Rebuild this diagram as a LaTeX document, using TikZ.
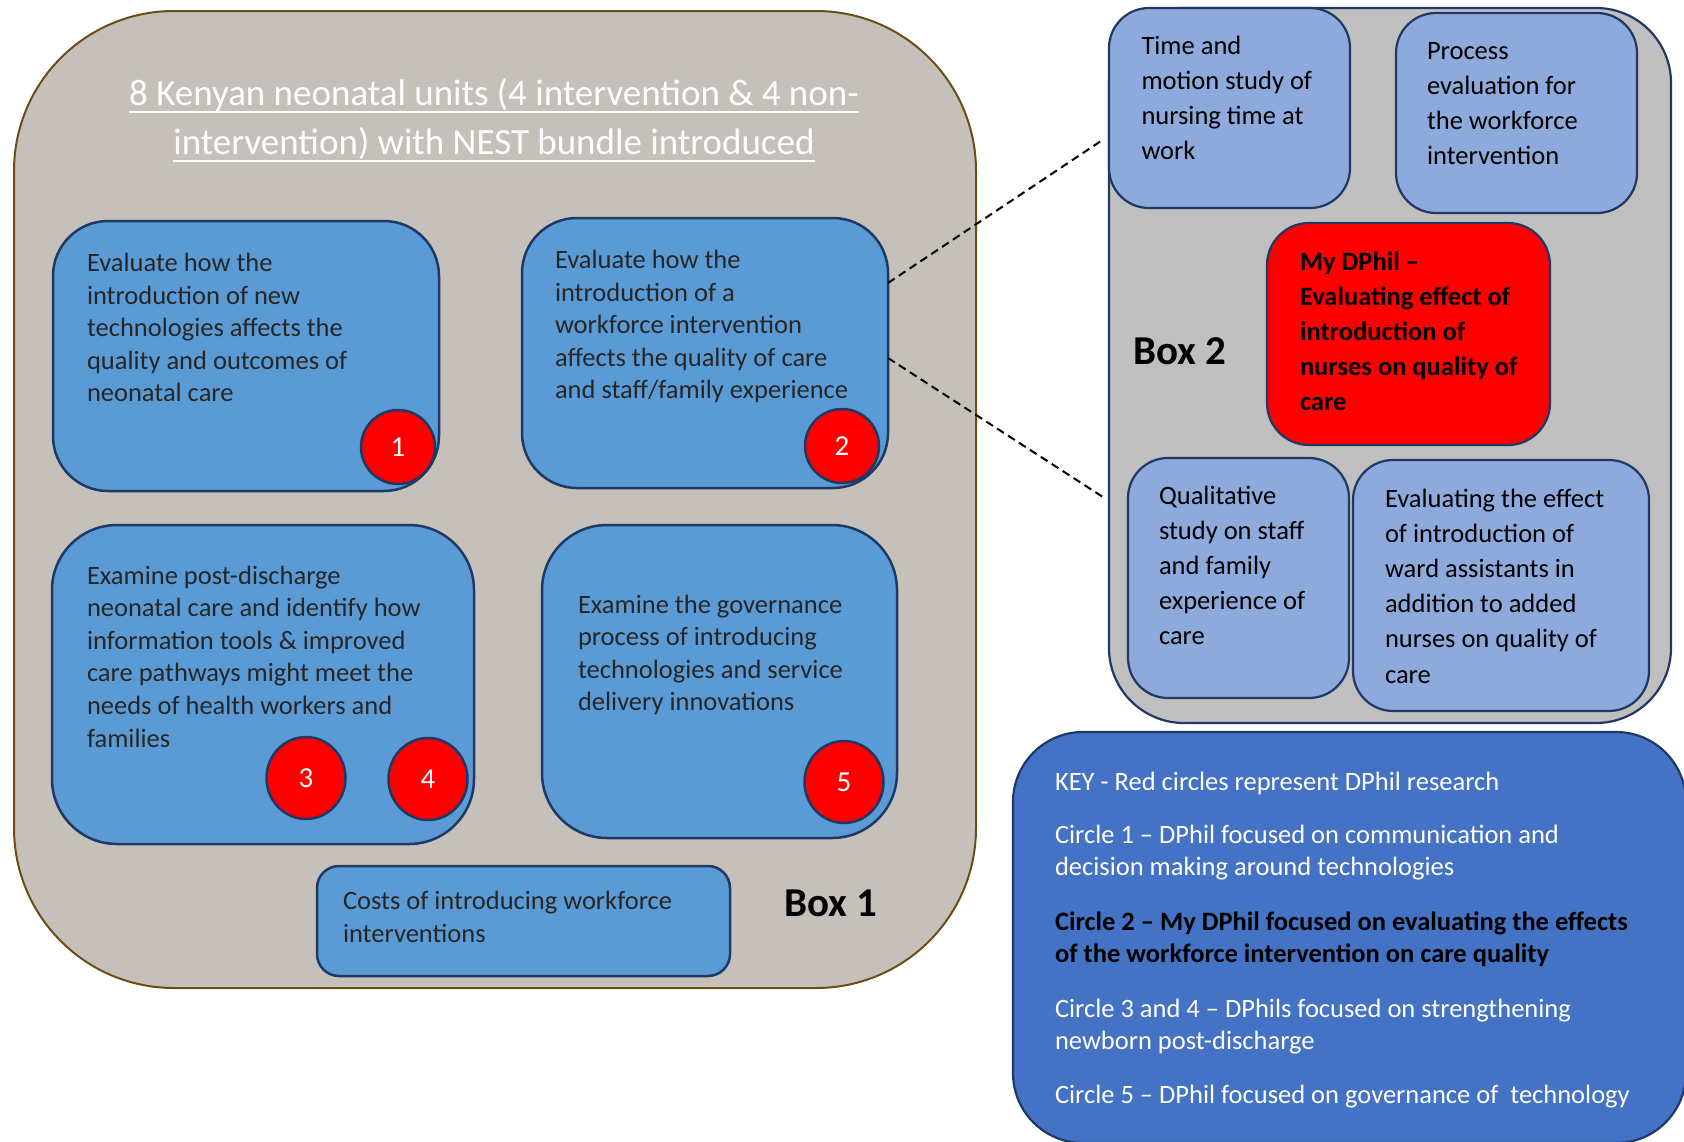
\documentclass[tikz,border=0pt]{standalone}
\usepackage{fontspec}
\setmainfont{Carlito}
\usetikzlibrary{shapes.geometric}

\definecolor{unitfill}{HTML}{C5C0BA}
\definecolor{brownline}{HTML}{6B4E16}
\definecolor{navy}{HTML}{1F3864}
\definecolor{taskblue}{HTML}{5B9BD5}
\definecolor{studyblue}{HTML}{8EA9DB}
\definecolor{boxgray}{HTML}{BFBFBF}
\definecolor{keyblue}{HTML}{4472C4}
\definecolor{dotred}{HTML}{FF0000}
\definecolor{bodygray}{HTML}{262626}

% multi-line block whose reference point is the first baseline
\newcommand\tb[1]{\parbox[t]{760pt}{\raggedright #1}}
% underlined title line with the rule set close to the baseline
\newcommand\ulline[1]{\leavevmode\setbox0\hbox{#1}\rlap{\rule[-7.4pt]{\wd0}{2pt}}\box0}

\begin{document}
\begin{tikzpicture}[x=1pt,y=-1pt,
  every node/.style={inner sep=0pt, outer sep=0pt},
  rbox/.style n args={3}{rectangle, anchor=north west, minimum width=#1pt, minimum height=#2pt, rounded corners=#3pt},
  unitbox/.style={draw=brownline, fill=unitfill, line width=2pt},
  taskbox/.style={draw=navy, fill=taskblue, line width=2.5pt},
  groupbox/.style={draw=navy, fill=boxgray, line width=2.2pt},
  studybox/.style={draw=navy, fill=studyblue, line width=2.2pt},
  mainbox/.style={draw=navy, fill=dotred, line width=2.2pt},
  keybox/.style={draw=navy, fill=keyblue, line width=2.2pt},
  dot/.style={circle, draw=navy, line width=2.5pt, fill=dotred, text=white, minimum size=74pt, font=\fontsize{29}{29}\selectfont},
  bigdot/.style={ellipse, draw=navy, line width=2.5pt, fill=dotred, text=white, minimum width=79pt, minimum height=82pt, font=\fontsize{29}{29}\selectfont},
  body/.style={anchor=base west, text=bodygray, font=\fontsize{26.5}{32.6}\selectfont},
  study/.style={anchor=base west, text=black, font=\fontsize{26.5}{35.2}\selectfont},
  keytext/.style={anchor=base west, text=white, font=\fontsize{26.5}{32.4}\selectfont},
  boxlabel/.style={anchor=base west, text=black, font=\fontsize{41}{41}\selectfont\bfseries},
  dashline/.style={draw=black, line width=2pt, dash pattern=on 8pt off 5pt},
]
\useasboundingbox (0,0) rectangle (1684,1141);

% ---------- Box 1: study sites and work packages ----------
\node[unitbox, rbox={962}{977}{160}] (unit) at (14,11) {};
\node[anchor=base, text=white, font=\fontsize{37}{49}\selectfont] (title) at (494,105.5)
  {\parbox[t]{900pt}{\centering \ulline{8 Kenyan neonatal units (4 intervention \& 4 non-}\\
   \ulline{intervention) with NEST bundle introduced}}};

\node[taskbox, rbox={386}{270}{55}] (boxA) at (53,221) {};
\node[taskbox, rbox={366}{270}{55}] (boxB) at (522,218) {};
\node[taskbox, rbox={422}{319}{65}] (boxC) at (52,525) {};
\node[taskbox, rbox={355}{313}{65}] (boxD) at (542,525) {};
\node[taskbox, rbox={413}{110}{22}] (boxE) at (317,866) {};

\node[body] (tA) at (87,271.5) {\tb{Evaluate how the\\introduction of new\\technologies affects the\\quality and outcomes of\\neonatal care}};
\node[body] (tB) at (555,268.5) {\tb{Evaluate how the\\introduction of a\\workforce intervention\\affects the quality of care\\and staff/family experience}};
\node[body] (tC) at (87,584) {\tb{Examine post-discharge\\neonatal care and identify how\\information tools \& improved\\care pathways might meet the\\needs of health workers and\\families}};
\node[body] (tD) at (578,613) {\tb{Examine the governance\\process of introducing\\technologies and service\\delivery innovations}};
\node[body] (tE) at (343,909.5) {\tb{Costs of introducing workforce\\interventions}};

\node[dot] (c1) at (398,447) {\raisebox{-8pt}{1}};
\node[dot] (c2) at (842,446) {\raisebox{-6pt}{2}};
\node[bigdot] (c3) at (306,778) {\raisebox{-1pt}{3}};
\node[bigdot] (c4) at (428,779) {\raisebox{-1pt}{4}};
\node[bigdot] (c5) at (844,782) {\raisebox{-6pt}{5}};

\node[boxlabel] (lab1) at (784,916) {Box 1};

% ---------- Box 2: components of the workforce evaluation ----------
\node[groupbox, rbox={562}{715}{75}] (group) at (1109,8) {};
\node[studybox, rbox={241}{200}{40}] (sTime) at (1109,8) {};
\node[studybox, rbox={241}{200}{40}] (sProc) at (1396,13) {};
\node[mainbox, rbox={283}{222}{42}] (sMain) at (1267,223) {};
\node[studybox, rbox={221}{240}{40}] (sQual) at (1128,458) {};
\node[studybox, rbox={296}{251}{40}] (sWard) at (1353,460) {};

\node[study] (tTime) at (1141.5,54) {\tb{Time and\\motion study of\\nursing time at\\work}};
\node[study] (tProc) at (1427,59) {\tb{Process\\evaluation for\\the workforce\\intervention}};
\node[study, font=\fontsize{26.5}{35.2}\selectfont\bfseries] (tMain) at (1300,270) {\tb{My DPhil --\\Evaluating effect of\\introduction of\\nurses on quality of\\care}};
\node[study] (tQual) at (1159,504) {\tb{Qualitative\\study on staff\\and family\\experience of\\care}};
\node[study] (tWard) at (1385,507) {\tb{Evaluating the effect\\of introduction of\\ward assistants in\\addition to added\\nurses on quality of\\care}};

\node[boxlabel] (lab2) at (1133,364) {Box 2};

% ---------- Key ----------
\node[keybox, rbox={673}{411}{70}] (key) at (1013,732) {};
\node[keytext] (k0) at (1055,790) {\tb{KEY - Red circles represent DPhil research}};
\node[keytext] (k1) at (1055,843) {\tb{Circle 1 -- DPhil focused on communication and\\decision making around technologies}};
\node[keytext, text=black, font=\fontsize{26.5}{32.4}\selectfont\bfseries] (k2) at (1055,930) {\tb{Circle 2 -- My DPhil focused on evaluating the effects\\of the workforce intervention on care quality}};
\node[keytext] (k3) at (1055,1017.5) {\tb{Circle 3 and 4 -- DPhils focused on strengthening\\newborn post-discharge}};
\node[keytext] (k4) at (1055,1103.5) {\tb{Circle 5 -- DPhil focused on governance of~ technology}};

% ---------- zoom lines from work package 2 to Box 2 ----------
\coordinate (zA1) at (888,283);
\coordinate (zA2) at (1101,141);
\coordinate (zB1) at (888,358);
\coordinate (zB2) at (1106,499);
\draw[dashline] (zA1) -- (zA2);
\draw[dashline] (zB1) -- (zB2);
\end{tikzpicture}
\end{document}
